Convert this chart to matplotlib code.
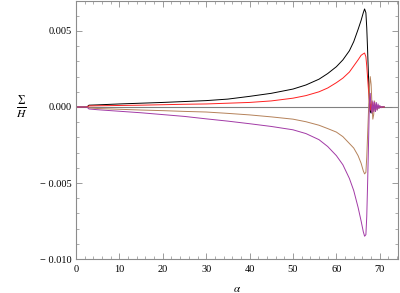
import numpy as np
import matplotlib
matplotlib.use('Agg')
import matplotlib.pyplot as plt
from matplotlib.ticker import MultipleLocator, FuncFormatter

# values
alpha = [0, 2.5, 3.0, 5, 10, 15, 20, 25, 30, 35, 40, 45, 50, 53, 56, 58, 60,
         61.5, 63, 64, 65, 65.7, 66.2, 66.5, 66.8, 67.0, 67.2, 67.4, 67.6,
         67.8, 68.0, 68.2, 68.4, 68.6, 68.8, 69.0, 69.2, 69.4, 69.6, 69.8,
         70.0, 70.3, 70.6, 71.0]

black = [0, 0, 0.00012, 0.00014, 0.0002, 0.00025, 0.0003, 0.00036, 0.00042,
         0.00052, 0.0007, 0.0009, 0.00118, 0.00145, 0.00183, 0.0022, 0.00265,
         0.0031, 0.0037, 0.0043, 0.0051, 0.0057, 0.0062, 0.00645, 0.0062,
         0.0052, 0.0037, 0.0020, 0.0006, -0.0003, -0.0004, 0.0002, -0.0002,
         0.0001, -0.0001, 0.00005, 0, 0, 0, 0, 0, 0, 0, 0]

red = [0, 0, 0.00007, 0.00008, 0.0001, 0.00012, 0.00015, 0.00018, 0.0002,
       0.00025, 0.0003, 0.0004, 0.00058, 0.00075, 0.001, 0.00125, 0.0016,
       0.0019, 0.0023, 0.0027, 0.0031, 0.0034, 0.0035, 0.00355, 0.0033,
       0.0027, 0.0019, 0.0011, 0.0004, -0.0002, 0.0004, -0.0003, 0.0003,
       -0.0002, 0.0002, -0.0001, 0.0001, -0.00005, 0.00003, 0, 0, 0, 0, 0]

brown = [0, 0, -0.00006, -0.0001, -0.00015, -0.0002, -0.00024, -0.00029,
         -0.00033, -0.00042, -0.00052, -0.00065, -0.0008, -0.00097, -0.0012,
         -0.00142, -0.00165, -0.00195, -0.0024, -0.0027, -0.0032, -0.0037,
         -0.0042, -0.0044, -0.0043, -0.0033, -0.0018, -0.0003, 0.0012,
         0.0020, 0.0015, 0.0002, -0.0008, -0.0005, 0.0004, -0.0003, 0.0002,
         -0.0002, 0.0001, -0.0001, 0.00005, 0, 0, 0]

purple = [0, 0, -0.00013, -0.00018, -0.00028, -0.00038, -0.0005, -0.00062,
          -0.00078, -0.00093, -0.0011, -0.00128, -0.0015, -0.00175, -0.00215,
          -0.0026, -0.0032, -0.0038, -0.0047, -0.0055, -0.0066, -0.0075,
          -0.0082, -0.0085, -0.0084, -0.0072, -0.0050, -0.0025, 0.0002,
          0.0009, 0.0, -0.0004, 0.0004, -0.0003, 0.0003, -0.0003, 0.0003,
          -0.0002, 0.0002, -0.0001, 0.0001, -0.00005, 0.00003, 0]

series = [(black, 'black'), (red, '#ff2020'), (brown, '#b5825a'),
          (purple, '#a23aa6')]

plt.rcParams['font.family'] = ['Liberation Serif', 'DejaVu Serif']
plt.rcParams['mathtext.fontset'] = 'stix'

fig = plt.figure(figsize=(4.0, 2.93), dpi=100)
ax = fig.add_axes([0.19, 0.116, 0.805, 0.882])

ax.axhline(0, color='#808080', lw=0.8, zorder=1)
for vals, col in series:
    ax.plot(alpha, vals, color=col, lw=0.7, zorder=2)

ax.set_xlim(0, 74.2)
ax.set_ylim(-0.010, 0.0070)

ax.xaxis.set_major_locator(MultipleLocator(10))
ax.xaxis.set_minor_locator(MultipleLocator(2))
ax.yaxis.set_major_locator(MultipleLocator(0.005))
ax.yaxis.set_minor_locator(MultipleLocator(0.001))


def yfmt(v, pos):
    s = f'{abs(v):.3f}'
    return ('\u2212 ' + s) if v < -1e-12 else s


ax.yaxis.set_major_formatter(FuncFormatter(yfmt))

frame = '#8c8c8c'
for sp in ax.spines.values():
    sp.set_color(frame)
    sp.set_linewidth(0.8)
ax.tick_params(which='both', direction='in', top=True, right=True,
               color=frame, labelsize=7.5, labelcolor='black')
ax.tick_params(which='major', length=4, width=0.6)
ax.tick_params(which='minor', length=2, width=0.5)
ax.tick_params(axis='x', pad=4)
ax.tick_params(axis='y', pad=3)

ax.set_xlabel(r'$\alpha$', fontsize=8, labelpad=8)
ax.set_ylabel(r'$\frac{\Sigma}{H}$', fontsize=12, rotation=0,
              va='center', ha='center')
ax.yaxis.set_label_coords(-0.168, 0.585)

fig.savefig('out.png', dpi=100)
